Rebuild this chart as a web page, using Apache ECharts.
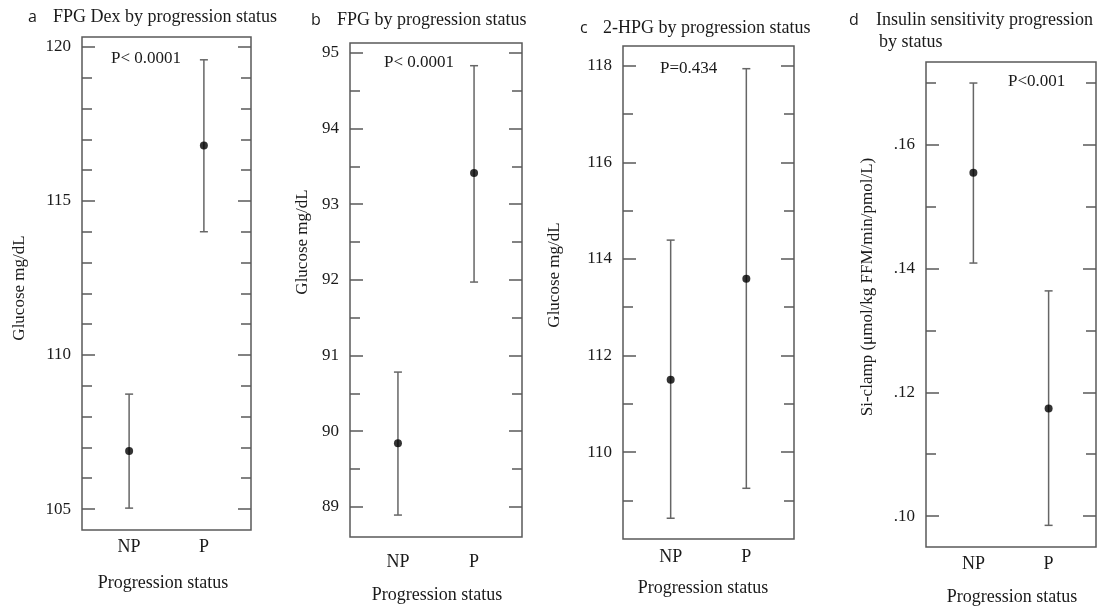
<!DOCTYPE html>
<html>
<head>
<meta charset="utf-8">
<script src="https://cdn.jsdelivr.net/npm/echarts@6/dist/echarts.min.js"></script>
<style>
  html, body { margin: 0; padding: 0; background: #fff; }
  #chart { width: 1099px; height: 606px; }
</style>
</head>
<body>
<div id="chart"></div>
<script>
const categories = ['NP', 'P']

// a: FPG Dex
const fpgDexMean = [106.88, 116.8]
const fpgDexLow = [105.03, 114.0]
const fpgDexHigh = [108.73, 119.58]
// b: FPG
const fpgMean = [89.84, 93.41]
const fpgLow = [88.89, 91.97]
const fpgHigh = [90.78, 94.83]
// c: 2-HPG
const hpgMean = [111.5, 113.59]
const hpgLow = [108.63, 109.25]
const hpgHigh = [114.39, 117.94]
// d: Si-clamp
const siMean = [0.1555, 0.1174]
const siLow = [0.1409, 0.0985]
const siHigh = [0.170, 0.1364]

const aMajor = [105, 110, 115, 120]
const aMinor = [106, 107, 108, 109, 111, 112, 113, 114, 116, 117, 118, 119]
const bMajor = [89, 90, 91, 92, 93, 94, 95]
const bMinor = [89.5, 90.5, 91.5, 92.5, 93.5, 94.5]
const cMajor = [110, 112, 114, 116, 118]
const cMinor = [109, 111, 113, 115, 117]
const dMajor = [0.10, 0.12, 0.14, 0.16]
const dMinor = [0.11, 0.13, 0.15, 0.17]

const pTexts = ['P< 0.0001', 'P< 0.0001', 'P=0.434', 'P<0.001']

const SERIF = '"Liberation Serif", "Times New Roman", serif'
const SANS = '"Open Sans", "Liberation Sans", sans-serif'
const TEXT = '#1a1a1a'
const FRAME = '#5a5a5a'
const BAR = '#666'

const panels = [
  { mean: fpgDexMean, low: fpgDexLow, high: fpgDexHigh, major: aMajor, minor: aMinor,
    min: 104.32, max: 120.32, grid: { left: 82, top: 37, width: 169, height: 493 }, xMargin: 8,
    fmt: v => String(v) },
  { mean: fpgMean, low: fpgLow, high: fpgHigh, major: bMajor, minor: bMinor,
    min: 88.6, max: 95.13, grid: { left: 350, top: 43, width: 172, height: 494 }, xMargin: 16,
    fmt: v => String(v) },
  { mean: hpgMean, low: hpgLow, high: hpgHigh, major: cMajor, minor: cMinor,
    min: 108.2, max: 118.41, grid: { left: 623, top: 46, width: 171, height: 493 }, xMargin: 9,
    fmt: v => String(v) },
  { mean: siMean, low: siLow, high: siHigh, major: dMajor, minor: dMinor,
    min: 0.095, max: 0.1734, grid: { left: 926, top: 62, width: 170, height: 485 }, xMargin: 8,
    fmt: v => v.toFixed(2).replace(/^0/, '') },
]

function renderErrorBar(params, api) {
  const x = api.value(0)
  const lo = api.coord([x, api.value(1)])
  const hi = api.coord([x, api.value(2)])
  const cap = 4
  const style = { stroke: BAR, lineWidth: 1.5 }
  return {
    type: 'group',
    children: [
      { type: 'line', shape: { x1: hi[0], y1: hi[1], x2: lo[0], y2: lo[1] }, style },
      { type: 'line', shape: { x1: hi[0] - cap, y1: hi[1], x2: hi[0] + cap, y2: hi[1] }, style },
      { type: 'line', shape: { x1: lo[0] - cap, y1: lo[1], x2: lo[0] + cap, y2: lo[1] }, style },
    ],
  }
}

const grid = [], xAxis = [], yAxis = [], series = []

panels.forEach((p, i) => {
  grid.push(Object.assign({ show: true, borderColor: FRAME, borderWidth: 1.5 }, p.grid))
  xAxis.push({
    gridIndex: i, type: 'value', min: -0.63, max: 1.63,
    axisLine: { show: false, onZero: false }, axisTick: { show: false }, splitLine: { show: false },
    axisLabel: {
      customValues: [0, 1], formatter: v => categories[v], margin: p.xMargin,
      fontFamily: SERIF, fontSize: 18, color: TEXT,
    },
  })
  const base = { gridIndex: i, type: 'value', min: p.min, max: p.max,
    axisLine: { show: false, onZero: false }, splitLine: { show: false } }
  const yStart = yAxis.length
  yAxis.push(Object.assign({}, base, {
    position: 'left',
    axisTick: { inside: true, length: 13, customValues: p.major, lineStyle: { color: FRAME, width: 1.5 } },
    axisLabel: { customValues: p.major, formatter: p.fmt, margin: 11,
      fontFamily: SERIF, fontSize: 17, color: TEXT },
  }))
  yAxis.push(Object.assign({}, base, {
    position: 'left', axisLabel: { show: false },
    axisTick: { inside: true, length: 10, customValues: p.minor, lineStyle: { color: FRAME, width: 1.5 } },
  }))
  yAxis.push(Object.assign({}, base, {
    position: 'right', axisLabel: { show: false },
    axisTick: { inside: true, length: 13, customValues: p.major, lineStyle: { color: FRAME, width: 1.5 } },
  }))
  yAxis.push(Object.assign({}, base, {
    position: 'right', axisLabel: { show: false },
    axisTick: { inside: true, length: 10, customValues: p.minor, lineStyle: { color: FRAME, width: 1.5 } },
  }))
  series.push({
    type: 'custom', xAxisIndex: i, yAxisIndex: yStart,
    renderItem: renderErrorBar,
    encode: { x: 0, y: [1, 2] },
    data: categories.map((c, k) => [k, p.low[k], p.high[k]]),
    silent: true,
  })
  series.push({
    type: 'scatter', xAxisIndex: i, yAxisIndex: yStart,
    symbolSize: 8, itemStyle: { color: '#000' },
    data: categories.map((c, k) => [k, p.mean[k]]),
    silent: true, z: 5,
  })
})

function txt(text, x, y, opts) {
  opts = opts || {}
  const align = opts.align || 'left'
  return {
    type: 'text', x, y, rotation: opts.rotation || 0, silent: true,
    style: {
      text, fill: TEXT, font: (opts.size || 17) + 'px ' + (opts.family || SERIF),
      align, textAlign: align, verticalAlign: 'middle', textVerticalAlign: 'middle',
    },
  }
}

const graphic = [
  txt('a', 28, 17, { family: SANS, size: 16 }),
  txt('FPG Dex by progression status', 53, 17, { size: 18 }),
  txt('b', 311, 20, { family: SANS, size: 16 }),
  txt('FPG by progression status', 337, 20, { size: 18 }),
  txt('c', 580, 28, { family: SANS, size: 16 }),
  txt('2-HPG by progression status', 603, 28, { size: 18 }),
  txt('d', 849, 20, { family: SANS, size: 16 }),
  txt('Insulin sensitivity progression', 876, 20, { size: 18 }),
  txt('by status', 879, 42, { size: 18 }),

  txt(pTexts[0], 111, 59),
  txt(pTexts[1], 384, 63),
  txt(pTexts[2], 660, 69),
  txt(pTexts[3], 1008, 82),

  txt('Glucose mg/dL', 20, 288, { align: 'center', rotation: Math.PI / 2 }),
  txt('Glucose mg/dL', 303, 242, { align: 'center', rotation: Math.PI / 2 }),
  txt('Glucose mg/dL', 555, 275, { align: 'center', rotation: Math.PI / 2 }),
  txt('Si-clamp (\u03bcmol/kg FFM/min/pmol/L)', 868, 287, { align: 'center', rotation: Math.PI / 2 }),

  txt('Progression status', 163, 583, { align: 'center', size: 18 }),
  txt('Progression status', 437, 595, { align: 'center', size: 18 }),
  txt('Progression status', 703, 588, { align: 'center', size: 18 }),
  txt('Progression status', 1012, 597, { align: 'center', size: 18 }),
]

const chart = echarts.init(document.getElementById('chart'), null, { renderer: 'canvas' })
chart.setOption({
  animation: false,
  grid, xAxis, yAxis, series, graphic,
})
</script>
</body>
</html>
